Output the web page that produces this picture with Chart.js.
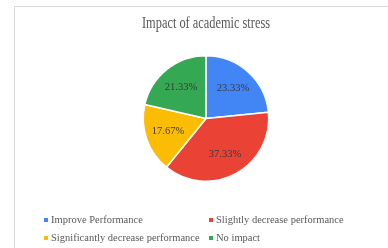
<!DOCTYPE html>
<html>
<head>
<meta charset="utf-8">
<script src="https://cdn.jsdelivr.net/npm/chart.js@4"></script>
<style>
  body { margin: 0; background: #fff; }
  #wrap { position: relative; width: 388px; height: 248px; overflow: hidden; }
  #frame { position: absolute; left: 14px; top: 6px; width: 400px; height: 260px; border: 1px solid #d9d9d9; }
  #c { position: absolute; left: 0; top: 0; }
  .item { position: absolute; font: 10.5px "Liberation Serif", serif; color: #595959; white-space: nowrap; line-height: 12px; }
  .item span { display: inline-block; width: 4px; height: 4px; margin-right: 3px; vertical-align: middle; position: relative; top: -1px; }
</style>
</head>
<body>
<div id="wrap">
  <div id="frame"></div>
  <canvas id="c" width="388" height="248"></canvas>
  <div id="legend"></div>
</div>
<script>
"use strict";

var categories = ["Improve Performance", "Slightly decrease performance", "Significantly decrease performance", "No impact"];
var values = [23.33, 37.33, 17.67, 21.33];
var colors = ["#4285f4", "#ea4335", "#fbbc04", "#34a853"];
var legendPos = [[44, 214], [209, 214], [44, 232], [209, 232]];

var legend = document.getElementById("legend");
categories.forEach(function(name, i) {
    var d = document.createElement("div");
    d.className = "item";
    d.style.left = legendPos[i][0] + "px";
    d.style.top = legendPos[i][1] + "px";
    d.innerHTML = '<span style="background:' + colors[i] + '"></span>' + name;
    legend.appendChild(d);
});

var sliceLabels = {
    id: "sliceLabels",
    afterDatasetsDraw: function(chart) {
        var ctx = chart.ctx;
        var meta = chart.getDatasetMeta(0);
        ctx.save();
        ctx.font = "10.5px 'Liberation Serif', serif";
        ctx.fillStyle = "#3a3a3a";
        ctx.textAlign = "center";
        ctx.textBaseline = "middle";
        meta.data.forEach(function(arc, i) {
            var mid = (arc.startAngle + arc.endAngle) / 2;
            var r = arc.outerRadius * 0.64;
            ctx.fillText(values[i].toFixed(2) + "%", arc.x + Math.cos(mid) * r, arc.y + Math.sin(mid) * r);
        });
        ctx.restore();
    }
};

new Chart(document.getElementById("c"), {
    type: "pie",
    data: {
        labels: categories,
        datasets: [{
            data: values,
            backgroundColor: colors,
            borderColor: "#ffffff",
            borderWidth: 1.5
        }]
    },
    options: {
        responsive: false,
        animation: false,
        layout: {
            padding: { left: 142, right: 118, top: 6, bottom: 66 }
        },
        plugins: {
            title: {
                display: true,
                text: "Impact of academic stress",
                color: "#595959",
                font: { family: "'Liberation Serif', serif", size: 16, weight: "normal", lineHeight: 1.2 },
                padding: { top: 8, bottom: 21.8 }
            },
            legend: { display: false },
            tooltip: { enabled: false }
        }
    },
    plugins: [sliceLabels]
});
</script>
</body>
</html>
